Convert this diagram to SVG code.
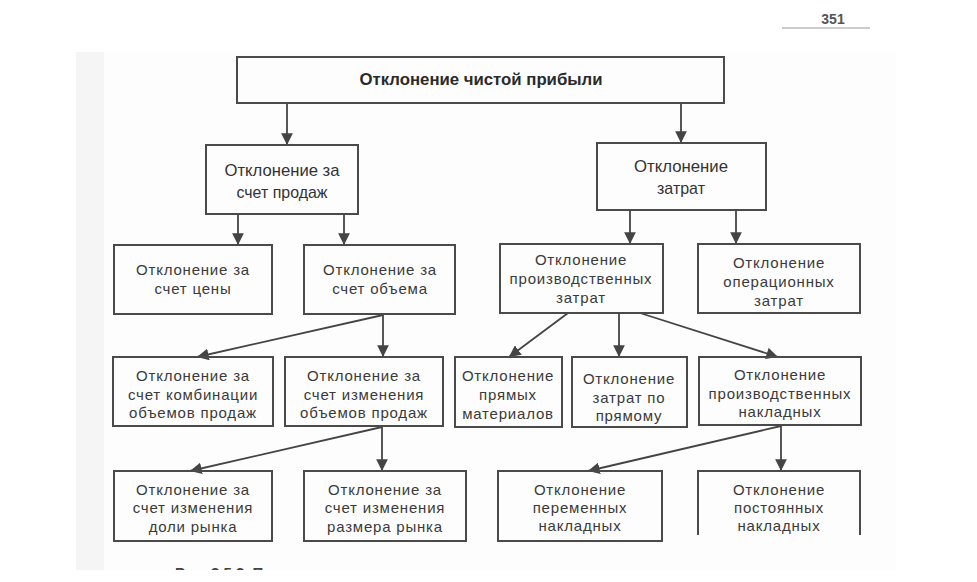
<svg xmlns="http://www.w3.org/2000/svg" width="977" height="582" viewBox="0 0 977 582">
<defs>
<style>
.box{fill:none;stroke:#4a4a4a;stroke-width:2}
.t{font-family:"Liberation Sans",Arial,sans-serif;font-size:15px;fill:#3a3a3a;text-anchor:middle;letter-spacing:0.8px}
.tn{font-family:"Liberation Sans",Arial,sans-serif;font-size:17px;fill:#333;text-anchor:middle}
.tb{font-family:"Liberation Sans",Arial,sans-serif;font-size:16px;font-weight:bold;fill:#2a2a2a;text-anchor:middle}
.c{fill:none;stroke:#444;stroke-width:1.8}
</style>
<marker id="ah" viewBox="0 0 10 10" refX="10" refY="5" markerWidth="6.5" markerHeight="6.5" markerUnits="strokeWidth" orient="auto">
<path d="M0,0 L10,5 L0,10 Z" fill="#444"/>
</marker>
<clipPath id="cap"><rect x="0" y="0" width="977" height="570"/></clipPath>
</defs>
<rect x="0" y="0" width="977" height="582" fill="#fff"/>
<rect x="76" y="52" width="820" height="518" fill="#fdfdfd"/>
<rect x="76" y="52" width="28" height="518" fill="#f5f5f5"/>
<g id="header">
<text x="833" y="24" font-family="'Liberation Sans',Arial,sans-serif" font-size="14" font-weight="bold" fill="#555" text-anchor="middle">351</text>
<line x1="782" y1="28" x2="870" y2="28" stroke="#999" stroke-width="1"/>
</g>
<g id="connectors">
<line class="c" x1="287" y1="103" x2="287" y2="145" marker-end="url(#ah)"/>
<line class="c" x1="681" y1="103" x2="681" y2="143" marker-end="url(#ah)"/>
<line class="c" x1="238" y1="214" x2="238" y2="245" marker-end="url(#ah)"/>
<line class="c" x1="344" y1="214" x2="344" y2="245" marker-end="url(#ah)"/>
<line class="c" x1="630" y1="210" x2="630" y2="244" marker-end="url(#ah)"/>
<line class="c" x1="736" y1="210" x2="736" y2="244" marker-end="url(#ah)"/>
<line class="c" x1="383" y1="315" x2="197" y2="357" marker-end="url(#ah)"/>
<line class="c" x1="383" y1="315" x2="383" y2="357" marker-end="url(#ah)"/>
<line class="c" x1="568" y1="313" x2="509" y2="357" marker-end="url(#ah)"/>
<line class="c" x1="619" y1="313" x2="619" y2="357" marker-end="url(#ah)"/>
<line class="c" x1="640" y1="313" x2="778" y2="357" marker-end="url(#ah)"/>
<line class="c" x1="382" y1="427" x2="190" y2="471" marker-end="url(#ah)"/>
<line class="c" x1="382" y1="427" x2="382" y2="471" marker-end="url(#ah)"/>
<line class="c" x1="781" y1="426" x2="588" y2="471" marker-end="url(#ah)"/>
<line class="c" x1="781" y1="426" x2="781" y2="471" marker-end="url(#ah)"/>
</g>
<g id="n_root">
<rect class="box" x="237" y="57" width="487" height="46"/>
<text class="tb" x="481" y="85" textLength="243" lengthAdjust="spacingAndGlyphs">Отклонение чистой прибыли</text>
</g>
<g id="n_sales">
<rect class="box" x="206" y="145" width="152" height="69"/>
<text class="tn" x="282" y="176" textLength="115" lengthAdjust="spacingAndGlyphs">Отклонение за</text>
<text class="tn" x="282" y="198" textLength="91" lengthAdjust="spacingAndGlyphs">счет продаж</text>
</g>
<g id="n_costs">
<rect class="box" x="597" y="143" width="169" height="67"/>
<text class="tn" x="681" y="172" textLength="94" lengthAdjust="spacingAndGlyphs">Отклонение</text>
<text class="tn" x="681" y="194" textLength="48" lengthAdjust="spacingAndGlyphs">затрат</text>
</g>
<g id="n_price">
<rect class="box" x="114" y="245" width="158" height="69"/>
<text class="t" x="193" y="275">Отклонение за</text>
<text class="t" x="193" y="294">счет цены</text>
</g>
<g id="n_volume">
<rect class="box" x="304" y="245" width="151" height="69"/>
<text class="t" x="380" y="275">Отклонение за</text>
<text class="t" x="380" y="294">счет объема</text>
</g>
<g id="n_prodcost">
<rect class="box" x="500" y="244" width="163" height="69"/>
<text class="t" x="581" y="265">Отклонение</text>
<text class="t" x="581" y="284" letter-spacing="0.5">производственных</text>
<text class="t" x="581" y="303">затрат</text>
</g>
<g id="n_opcost">
<rect class="box" x="698" y="244" width="162" height="69"/>
<text class="t" x="779" y="268">Отклонение</text>
<text class="t" x="779" y="287">операционных</text>
<text class="t" x="779" y="306">затрат</text>
</g>
<g id="n_mix">
<rect class="box" x="113" y="357" width="160" height="69"/>
<text class="t" x="193" y="381">Отклонение за</text>
<text class="t" x="193" y="400">счет комбинации</text>
<text class="t" x="193" y="418">объемов продаж</text>
</g>
<g id="n_volchange">
<rect class="box" x="285" y="357" width="158" height="69"/>
<text class="t" x="364" y="381">Отклонение за</text>
<text class="t" x="364" y="400">счет изменения</text>
<text class="t" x="364" y="418">объемов продаж</text>
</g>
<g id="n_materials">
<rect class="box" x="455" y="357" width="107" height="70"/>
<text class="t" x="508" y="381" letter-spacing="0">Отклонение</text>
<text class="t" x="508" y="400">прямых</text>
<text class="t" x="508" y="419" letter-spacing="0.2">материалов</text>
</g>
<g id="n_direct">
<rect class="box" x="572" y="357" width="115" height="70"/>
<text class="t" x="629" y="384" letter-spacing="0.4">Отклонение</text>
<text class="t" x="629" y="403">затрат по</text>
<text class="t" x="629" y="421">прямому</text>
</g>
<g id="n_overhead">
<rect class="box" x="699" y="357" width="162" height="68"/>
<text class="t" x="780" y="380">Отклонение</text>
<text class="t" x="780" y="399" letter-spacing="0.5">производственных</text>
<text class="t" x="780" y="417">накладных</text>
</g>
<g id="n_share">
<rect class="box" x="114" y="471" width="158" height="70"/>
<text class="t" x="193" y="495">Отклонение за</text>
<text class="t" x="193" y="513">счет изменения</text>
<text class="t" x="193" y="532">доли рынка</text>
</g>
<g id="n_size">
<rect class="box" x="304" y="471" width="162" height="70"/>
<text class="t" x="385" y="495">Отклонение за</text>
<text class="t" x="385" y="513">счет изменения</text>
<text class="t" x="385" y="532">размера рынка</text>
</g>
<g id="n_variable">
<rect class="box" x="498" y="471" width="164" height="70"/>
<text class="t" x="580" y="495">Отклонение</text>
<text class="t" x="580" y="513">переменных</text>
<text class="t" x="580" y="531">накладных</text>
</g>
<g id="n_fixed">
<path class="box" d="M698,535 V471 H860 V535"/>
<text class="t" x="779" y="495">Отклонение</text>
<text class="t" x="779" y="513">постоянных</text>
<text class="t" x="779" y="531">накладных</text>
</g>
<g id="caption" clip-path="url(#cap)">
<text x="175" y="578" font-family="'Liberation Sans',Arial,sans-serif" font-size="15" font-weight="bold" fill="#444">Рис. 3.5.3. П</text>
</g>
</svg>
